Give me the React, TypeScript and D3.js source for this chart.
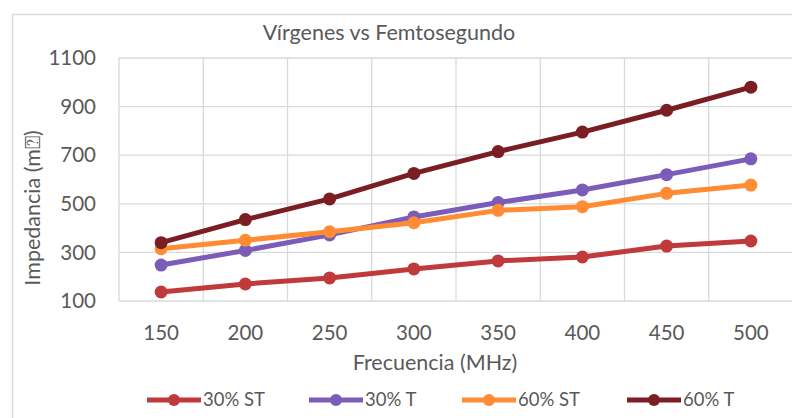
import React from "react";
import * as d3 from "d3";

const categories = ["150", "200", "250", "300", "350", "400", "450", "500"];
const seriesNames = ["30% ST", "30% T", "60% ST", "60% T"];
const seriesColors = ["#C0393B", "#7B5CB8", "#FF8C33", "#7A1E24"];
const s30ST = [137, 170, 195, 232, 265, 281, 326, 347];
const s30T = [248, 308, 372, 446, 505, 557, 620, 685];
const s60ST = [315, 350, 385, 422, 473, 488, 543, 577];
const s60T = [340, 435, 520, 625, 715, 795, 885, 980];
const yTicks = [100, 300, 500, 700, 900, 1100];
const seriesData = [s30ST, s30T, s60ST, s60T];

const W = 792, H = 418;
const plotL = 119, plotR = 793, plotT = 58, plotB = 301;
const FONT = "Lato, 'Open Sans', sans-serif";
const TXT = "#595959";

export default function App() {
  const x = d3.scaleBand().domain(categories).range([plotL, plotR]).padding(0);
  const y = d3.scaleLinear().domain([100, 1100]).range([plotB, plotT]);
  const line = d3.line<number>().x((_, i) => x(categories[i])! + x.bandwidth() / 2).y((d) => y(d));
  const gridX = categories.map((c) => x(c)!).concat([plotR]);
  const legendX = [147, 309, 462, 627];
  return (
    <svg width={W} height={H} style={{ position: "absolute", left: 0, top: 0, background: "#fff" }}>
      <rect x={0} y={0} width={W} height={H} fill="#fff" />
      <line x1={12.5} y1={14} x2={12.5} y2={H} stroke="#d9d9d9" strokeWidth={1.5} />
      <line x1={12} y1={14.5} x2={W} y2={14.5} stroke="#d9d9d9" strokeWidth={1.5} />
      <text x={389} y={40} textAnchor="middle" fontFamily={FONT} fontSize={21.5} fill={TXT}>Vírgenes vs Femtosegundo</text>
      {yTicks.map((t) => (
        <line key={"gy" + t} x1={plotL} x2={plotR} y1={y(t)} y2={y(t)} stroke="#d9d9d9" strokeWidth={1.3} />
      ))}
      {gridX.map((gx, i) => (
        <line key={"gx" + i} x1={gx} x2={gx} y1={plotT} y2={plotB} stroke="#d9d9d9" strokeWidth={1.3} />
      ))}
      {yTicks.map((t) => (
        <text key={"ty" + t} x={96} y={y(t)} dy="0.35em" textAnchor="end" fontFamily={FONT} fontSize={20.5} fill={TXT}>{t}</text>
      ))}
      {categories.map((c) => (
        <text key={"tx" + c} x={x(c)! + x.bandwidth() / 2} y={333} dy="0.35em" textAnchor="middle" fontFamily={FONT} fontSize={20.5} fill={TXT}>{c}</text>
      ))}
      <text x={435} y={362} dy="0.35em" textAnchor="middle" fontFamily={FONT} fontSize={21.5} fill={TXT}>Frecuencia (MHz)</text>
      <text transform={`translate(32,208) rotate(-90)`} dy="0.35em" textAnchor="middle" fontFamily={FONT} fontSize={21.5} fill={TXT}>Impedancia (m⍰)</text>
      {seriesData.map((s, k) => (
        <g key={"s" + k}>
          <path d={line(s)!} fill="none" stroke={seriesColors[k]} strokeWidth={5} strokeLinejoin="round" />
          {s.map((v, i) => (
            <circle key={i} cx={x(categories[i])! + x.bandwidth() / 2} cy={y(v)} r={6.5} fill={seriesColors[k]} />
          ))}
        </g>
      ))}
      {seriesNames.map((n, k) => (
        <g key={"l" + k}>
          <line x1={legendX[k]} x2={legendX[k] + 54} y1={400} y2={400} stroke={seriesColors[k]} strokeWidth={5} />
          <circle cx={legendX[k] + 27} cy={400} r={6} fill={seriesColors[k]} />
          <text x={legendX[k] + 56} y={400} dy="0.35em" fontFamily={FONT} fontSize={18.5} fill={TXT}>{n}</text>
        </g>
      ))}
    </svg>
  );
}
